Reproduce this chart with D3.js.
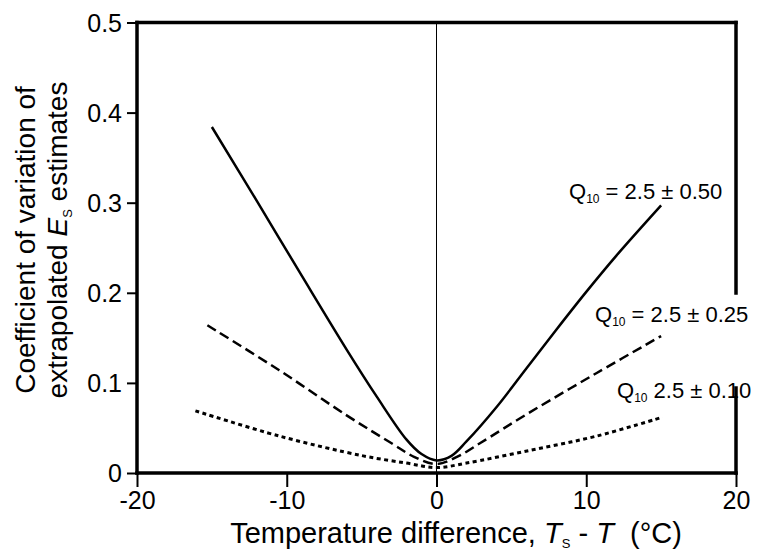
<!DOCTYPE html>
<html><head><meta charset="utf-8">
<script src="https://cdn.jsdelivr.net/npm/d3@7"></script>
<style>body{margin:0;background:#fff}svg{display:block;font-family:"Liberation Sans",Arial,sans-serif}</style>
</head><body><svg id="c" width="760" height="551"></svg>
<script>
const xTicks = [-20, -10, 0, 10, 20];
const yTicks = [0, 0.1, 0.2, 0.3, 0.4, 0.5];
const yTickLabels = ["0", "0.1", "0.2", "0.3", "0.4", "0.5"];

const solidX = [-15, -12, -9, -6, -4, -2, -1, 0, 1, 2, 4, 6, 8, 10, 12, 15];
const solidY = [0.384, 0.302, 0.219, 0.137, 0.085, 0.037, 0.021, 0.014, 0.019, 0.035, 0.073, 0.116, 0.159, 0.201, 0.241, 0.297];
const dashX = [-15.3, -10.5, -6, -3, -1.5, 0, 1.5, 2.9, 6.2, 10.7, 15];
const dashY = [0.164, 0.114, 0.064, 0.033, 0.018, 0.01, 0.019, 0.033, 0.067, 0.111, 0.152];
const dotX = [-16.1, -10.5, -4.9, -2, 0, 2, 6.2, 10.7, 15.1];
const dotY = [0.069, 0.041, 0.019, 0.011, 0.006, 0.011, 0.025, 0.041, 0.062];

const labels = [
  {pm: "0.50", eq: true},
  {pm: "0.25", eq: true},
  {pm: "0.10", eq: false}
];

const svg = d3.select("#c");
const x = d3.scaleLinear().domain([-20, 20]).range([137, 736]);
const y = d3.scaleLinear().domain([0, 0.5]).range([473, 22.5]);
const FF = "Liberation Sans, Arial, sans-serif";

// y axis
const ya = svg.append("g").attr("transform", `translate(${x(-20)},0)`)
  .call(d3.axisLeft(y).tickValues(yTicks).tickFormat((d,i)=>yTickLabels[i]).tickSize(10).tickPadding(5));
ya.select(".domain").remove();
ya.selectAll("line").attr("stroke","#000").attr("stroke-width",2);
ya.selectAll("text").attr("font-size",25).attr("fill","#000").attr("font-family",FF).attr("dy","0.34em");

// x axis
const xa = svg.append("g").attr("transform", `translate(0,${y(0)})`)
  .call(d3.axisBottom(x).tickValues(xTicks).tickFormat(d=>String(d)).tickSize(14).tickPadding(4));
xa.select(".domain").remove();
xa.selectAll("line").attr("stroke","#000").attr("stroke-width",2);
xa.selectAll("text").attr("font-size",25).attr("fill","#000").attr("font-family",FF).attr("dy","0.72em");

// zero line
svg.append("line").attr("x1",x(0)).attr("x2",x(0)).attr("y1",y(0.5)).attr("y2",y(0))
  .attr("stroke","#000").attr("stroke-width",1);

// frame
const fr = {stroke:"#000","stroke-width":3.5,"stroke-linecap":"square"};
function ln(x1,y1,x2,y2){const l=svg.append("line").attr("x1",x1).attr("y1",y1).attr("x2",x2).attr("y2",y2);for(const k in fr)l.attr(k,fr[k]);}
ln(x(-20),y(0.5),x(20),y(0.5));
ln(x(-20),y(0.5),x(-20),y(0));
ln(x(-20),y(0),x(20),y(0));
ln(x(20),y(0.5),x(20),293);
ln(x(20),388,x(20),y(0));

const line = d3.line().x(d=>x(d[0])).y(d=>y(d[1])).curve(d3.curveCatmullRom.alpha(0.5));
function series(xs, ys, dash, w){
  svg.append("path").datum(xs.map((v,i)=>[v,ys[i]])).attr("d",line)
    .attr("fill","none").attr("stroke","#000").attr("stroke-width",w)
    .attr("stroke-dasharray",dash);
}
series(solidX, solidY, null, 2.5);
series(dashX, dashY, "10,5", 2.5);
series(dotX, dotY, "4,3.5", 3);

// labels
const lpos = [[569,199],[595,322],[617,398]];
labels.forEach((l,i)=>{
  const t = svg.append("text").attr("x",lpos[i][0]).attr("y",lpos[i][1]).attr("font-size",22).attr("fill","#000");
  t.append("tspan").attr("fill","#000").text("Q");
  t.append("tspan").attr("fill","#000").attr("font-size",12).attr("dy",4).text("10");
  t.append("tspan").attr("fill","#000").attr("dy",-4).text(l.eq ? " = 2.5 ± " + l.pm : " 2.5 ± " + l.pm);
});

// axis titles
const xt = svg.append("text").attr("x",456).attr("y",543).attr("text-anchor","middle").attr("font-size",29).attr("fill","#000");
xt.append("tspan").text("Temperature difference, ");
xt.append("tspan").attr("font-style","italic").text("T");
xt.append("tspan").attr("font-size",13).attr("dy",5).text("S");
xt.append("tspan").attr("dy",-5).text(" - ");
xt.append("tspan").attr("font-style","italic").text("T");
xt.append("tspan").text("\u00a0\u00a0(°C)");

const yt = svg.append("g").attr("transform","translate(0,240) rotate(-90)");
yt.append("text").attr("x",0).attr("y",35).attr("text-anchor","middle").attr("font-size",28).attr("fill","#000")
  .text("Coefficient of variation of");
const yt2 = yt.append("text").attr("x",0).attr("y",67).attr("text-anchor","middle").attr("font-size",28).attr("fill","#000");
yt2.append("tspan").text("extrapolated ");
yt2.append("tspan").attr("font-style","italic").text("E");
yt2.append("tspan").attr("font-size",13).attr("dy",5).text("S");
yt2.append("tspan").attr("dy",-5).text(" estimates");
</script></body></html>
